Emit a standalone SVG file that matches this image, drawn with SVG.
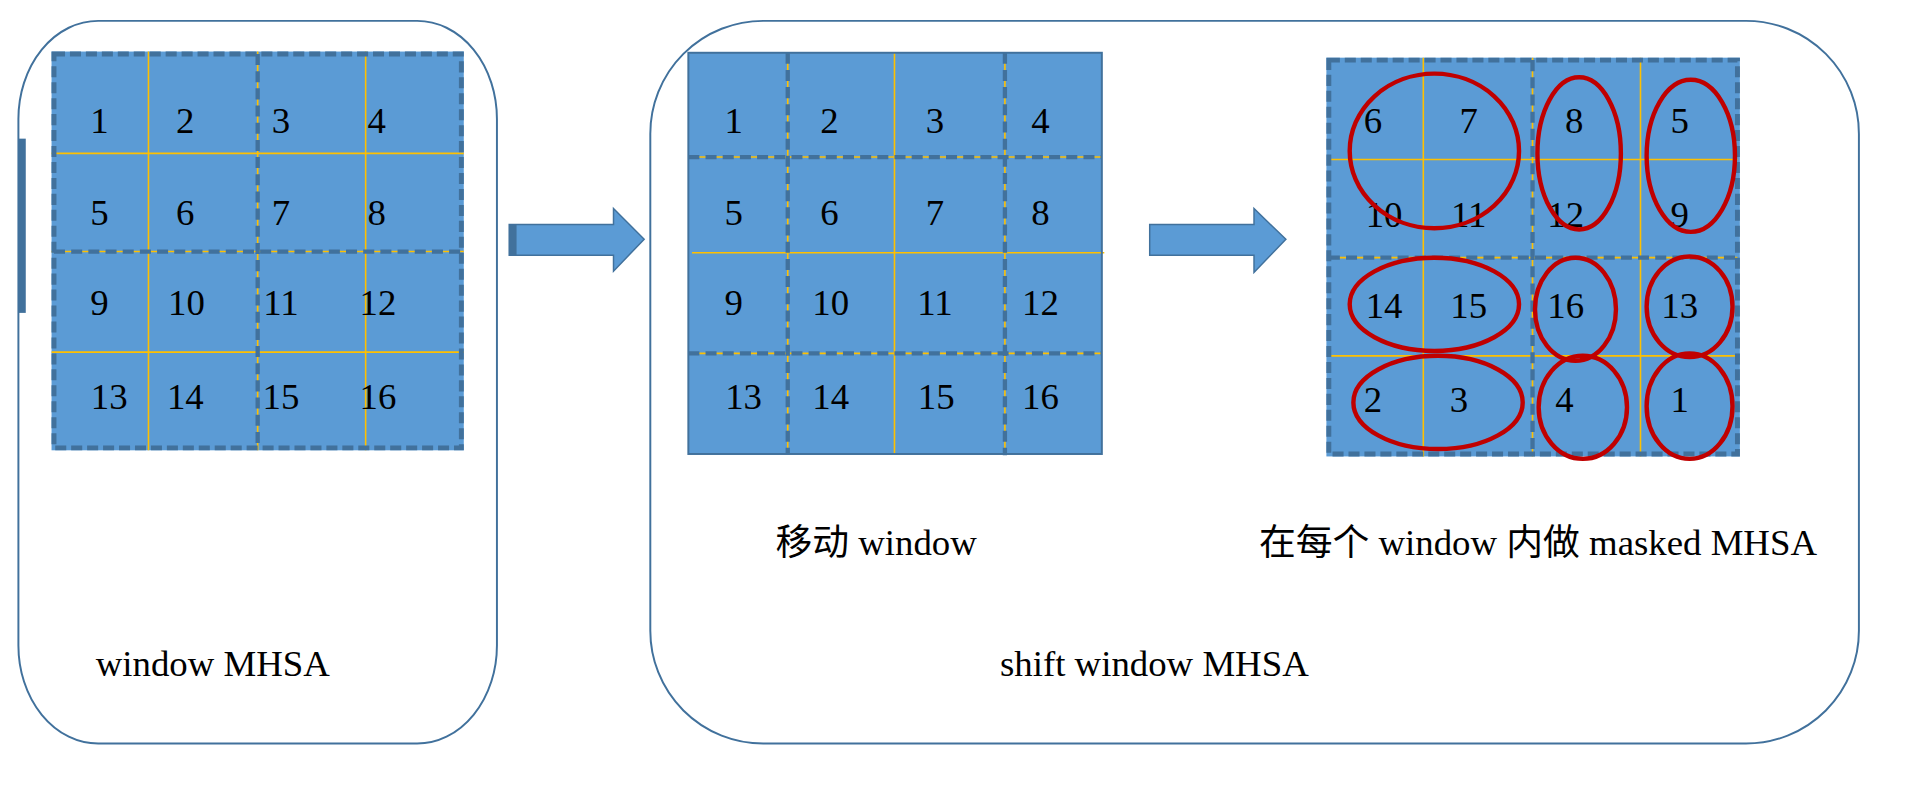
<svg xmlns="http://www.w3.org/2000/svg" width="1914" height="788" viewBox="0 0 1914 788">
<style>
.frame{fill:#fff;stroke:#41719C;stroke-width:1.6}
.cell{fill:#5B9BD5}
.bd{fill:none;stroke:#41719C;stroke-width:4;stroke-dasharray:9 4}
.solid{fill:none;stroke:#41719C;stroke-width:1.6}
.y{stroke:#FFC000;stroke-width:1.3;fill:none}
.dd{stroke:#41719C;stroke-width:3.5;stroke-dasharray:9 5;fill:none}
.el{fill:none;stroke:#C00000;stroke-width:3.6}
.n{font-family:"Liberation Serif",serif;font-size:30px;fill:#000;text-anchor:middle}
.t{font-family:"Liberation Serif","Noto Sans CJK SC",serif;font-size:30px;fill:#000}
.arr{fill:#5B9BD5;stroke:#41719C;stroke-width:1.2}
</style>
<rect width="1914" height="788" fill="#fff"/>
<g transform="scale(1.227)">
<g id="box1">
<rect class="frame" x="15" y="17" width="390" height="589" rx="65" ry="80"/>
<rect x="15" y="113" width="6" height="142" fill="#41719C"/>
<text class="t" x="78" y="551">window MHSA</text>
</g>
<g id="grid1">
<rect class="cell" x="42" y="42" width="336" height="325"/>
<line class="y" x1="121" y1="42" x2="121" y2="367"/>
<line class="y" x1="298" y1="42" x2="298" y2="367"/>
<line class="y" x1="42" y1="125" x2="378" y2="125"/>
<line class="y" x1="42" y1="287" x2="378" y2="287"/>
<line class="y" x1="210" y1="42" x2="210" y2="367"/>
<line class="y" x1="42" y1="205" x2="378" y2="205"/>
<line class="dd" x1="210" y1="44" x2="210" y2="365"/>
<line class="dd" x1="44" y1="205" x2="376" y2="205"/>
<rect class="bd" x="44" y="44" width="332" height="321"/>
<text class="n" x="81" y="108">1</text><text class="n" x="151" y="108">2</text><text class="n" x="229" y="108">3</text><text class="n" x="307" y="108">4</text>
<text class="n" x="81" y="183">5</text><text class="n" x="151" y="183">6</text><text class="n" x="229" y="183">7</text><text class="n" x="307" y="183">8</text>
<text class="n" x="81" y="257">9</text><text class="n" x="152" y="257">10</text><text class="n" x="229" y="257">11</text><text class="n" x="308" y="257">12</text>
<text class="n" x="89" y="333">13</text><text class="n" x="151" y="333">14</text><text class="n" x="229" y="333">15</text><text class="n" x="308" y="333">16</text>
</g>
<g id="box2">
<rect class="frame" x="530" y="17" width="985" height="589" rx="92" ry="92"/>
<text class="t" x="632" y="452">移动 window</text>
<text class="t" x="1026" y="452">在每个 window 内做 masked MHSA</text>
<text class="t" x="815" y="551">shift window MHSA</text>
</g>
<g id="grid2">
<rect class="cell" x="561" y="43" width="337" height="327"/>
<line class="y" x1="729" y1="43" x2="729" y2="370"/>
<line class="y" x1="564" y1="206" x2="900" y2="206"/>
<line class="y" x1="642" y1="43" x2="642" y2="370"/>
<line class="y" x1="819" y1="43" x2="819" y2="370"/>
<line class="y" x1="561" y1="128" x2="898" y2="128"/>
<line class="y" x1="561" y1="288" x2="898" y2="288"/>
<line class="dd" x1="642" y1="43" x2="642" y2="370"/>
<line class="dd" x1="819" y1="43" x2="819" y2="371"/>
<line class="dd" x1="561" y1="128" x2="898" y2="128"/>
<line class="dd" x1="561" y1="288" x2="898" y2="288"/>
<rect class="solid" x="561" y="43" width="337" height="327"/>
<text class="n" x="598" y="108">1</text><text class="n" x="676" y="108">2</text><text class="n" x="762" y="108">3</text><text class="n" x="848" y="108">4</text>
<text class="n" x="598" y="183">5</text><text class="n" x="676" y="183">6</text><text class="n" x="762" y="183">7</text><text class="n" x="848" y="183">8</text>
<text class="n" x="598" y="257">9</text><text class="n" x="677" y="257">10</text><text class="n" x="762" y="257">11</text><text class="n" x="848" y="257">12</text>
<text class="n" x="606" y="333">13</text><text class="n" x="677" y="333">14</text><text class="n" x="763" y="333">15</text><text class="n" x="848" y="333">16</text>
</g>
<g id="grid3">
<rect class="cell" x="1081" y="47" width="337" height="325"/>
<line class="y" x1="1160" y1="47" x2="1160" y2="372"/>
<line class="y" x1="1337" y1="47" x2="1337" y2="372"/>
<line class="y" x1="1083" y1="130" x2="1416" y2="130"/>
<line class="y" x1="1083" y1="290" x2="1416" y2="290"/>
<line class="y" x1="1249" y1="47" x2="1249" y2="372"/>
<line class="y" x1="1083" y1="210" x2="1416" y2="210"/>
<line class="dd" x1="1249" y1="49" x2="1249" y2="370"/>
<line class="dd" x1="1083" y1="210" x2="1416" y2="210"/>
<rect class="bd" x="1083" y="49" width="333" height="321"/>
<text class="n" x="1119" y="108">6</text><text class="n" x="1197" y="108">7</text><text class="n" x="1283" y="108">8</text><text class="n" x="1369" y="108">5</text>
<text class="n" x="1128" y="185">10</text><text class="n" x="1197" y="185">11</text><text class="n" x="1276" y="185">12</text><text class="n" x="1369" y="185">9</text>
<text class="n" x="1128" y="259">14</text><text class="n" x="1197" y="259">15</text><text class="n" x="1276" y="259">16</text><text class="n" x="1369" y="259">13</text>
<text class="n" x="1119" y="336">2</text><text class="n" x="1189" y="336">3</text><text class="n" x="1275" y="336">4</text><text class="n" x="1369" y="336">1</text>
<ellipse class="el" cx="1169" cy="123" rx="69" ry="63"/>
<ellipse class="el" cx="1287" cy="125" rx="34" ry="62"/>
<ellipse class="el" cx="1378" cy="127" rx="36" ry="62"/>
<ellipse class="el" cx="1169" cy="248" rx="69" ry="38"/>
<ellipse class="el" cx="1284" cy="252" rx="33" ry="42"/>
<ellipse class="el" cx="1377" cy="250" rx="35" ry="41"/>
<ellipse class="el" cx="1172" cy="328" rx="69" ry="38"/>
<ellipse class="el" cx="1290" cy="332" rx="36" ry="42"/>
<ellipse class="el" cx="1377" cy="331" rx="35" ry="43"/>
</g>
<g id="connectors">
<path class="arr" d="M415,183 H500 V170 L525,195 L500,221 V208 H415 Z"/>
<rect x="415" y="183" width="6" height="25" fill="#41719C"/>
<path class="arr" d="M937,183 H1022 V170 L1048,195 L1022,222 V208 H937 Z"/>
</g>
</g>
</svg>
